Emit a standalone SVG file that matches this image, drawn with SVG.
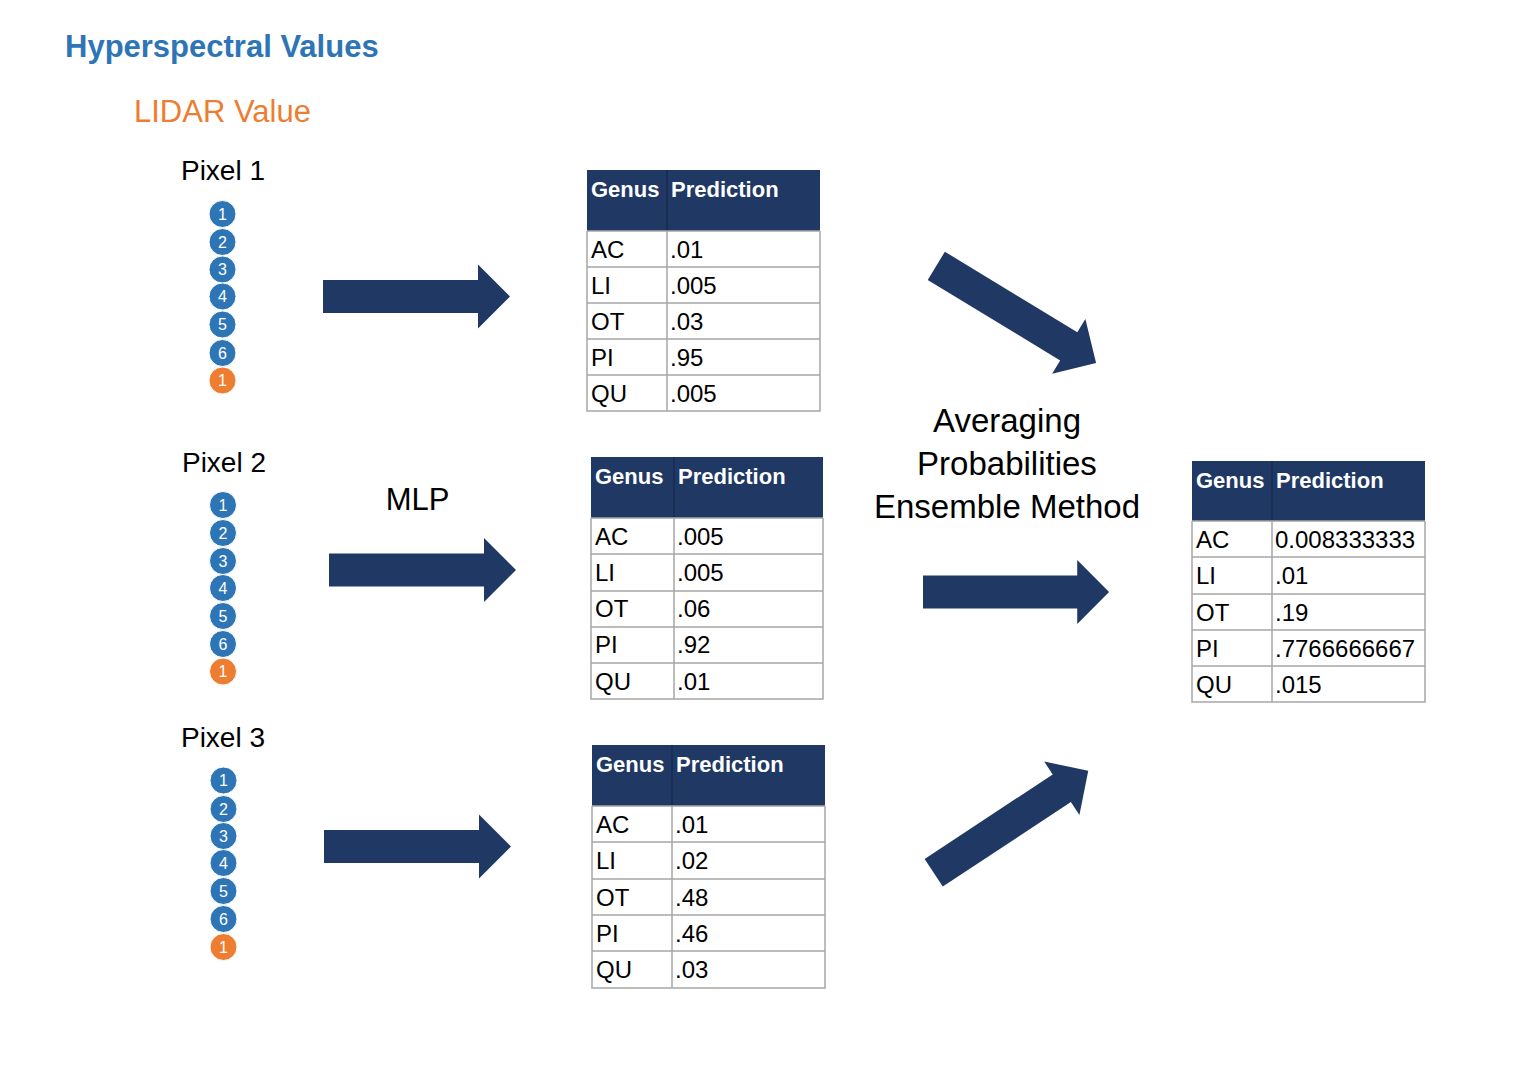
<svg xmlns="http://www.w3.org/2000/svg" width="1534" height="1075" viewBox="0 0 1534 1075">
<defs>
<style>
.bg{fill:#ffffff}
.arrow{fill:#1f3864}
.hdr{fill:#1f3864}
.cell{fill:#ffffff}
.grid{stroke:#a6a6a6;stroke-width:1.5;fill:none}
.hdrdiv{stroke:#15294a;stroke-width:1.2}
.ht{font-family:"Liberation Sans",Arial,sans-serif;font-weight:bold;font-size:22px;fill:#ffffff}
.ct{font-family:"Liberation Sans",Arial,sans-serif;font-size:24px;fill:#000000}
.lbl{font-family:"Liberation Sans",Arial,sans-serif;font-size:28px;fill:#000000;text-anchor:middle}
.big{font-family:"Liberation Sans",Arial,sans-serif;font-size:33px;fill:#000000;text-anchor:middle}
.cb{fill:#2e75b6;stroke:#ffffff;stroke-width:1}
.co{fill:#ed7d31;stroke:#ffffff;stroke-width:1}
.cn{font-family:"Liberation Sans",Arial,sans-serif;font-size:16px;fill:#ffffff;text-anchor:middle}
</style>
<path id="arr" d="M0,-16.5 L155,-16.5 L155,-32 L187,0 L155,32 L155,16.5 L0,16.5 Z"/>
</defs>
<rect class="bg" x="0" y="0" width="1534" height="1075"/>

<g id="titles">
<text x="65" y="57" style="font-family:'Liberation Sans',Arial,sans-serif;font-weight:bold;font-size:31px;fill:#2e75b6">Hyperspectral Values</text>
<text x="134" y="122" style="font-family:'Liberation Sans',Arial,sans-serif;font-size:31px;fill:#ed7d31">LIDAR Value</text>
</g>

<g id="pixel1">
<text class="lbl" x="223" y="180">Pixel 1</text>
<circle class="cb" cx="222.5" cy="214" r="13.5"/><text class="cn" x="222.5" y="219.5">1</text>
<circle class="cb" cx="222.5" cy="242" r="13.5"/><text class="cn" x="222.5" y="247.5">2</text>
<circle class="cb" cx="222.5" cy="269.5" r="13.5"/><text class="cn" x="222.5" y="275">3</text>
<circle class="cb" cx="222.5" cy="296.5" r="13.5"/><text class="cn" x="222.5" y="302">4</text>
<circle class="cb" cx="222.5" cy="324.5" r="13.5"/><text class="cn" x="222.5" y="330">5</text>
<circle class="cb" cx="222.5" cy="353" r="13.5"/><text class="cn" x="222.5" y="358.5">6</text>
<circle class="co" cx="222.5" cy="380.5" r="13.5"/><text class="cn" x="222.5" y="386">1</text>
</g>

<g id="pixel2">
<text class="lbl" x="224" y="472">Pixel 2</text>
<circle class="cb" cx="223" cy="505" r="13.5"/><text class="cn" x="223" y="510.5">1</text>
<circle class="cb" cx="223" cy="533" r="13.5"/><text class="cn" x="223" y="538.5">2</text>
<circle class="cb" cx="223" cy="561" r="13.5"/><text class="cn" x="223" y="566.5">3</text>
<circle class="cb" cx="223" cy="588" r="13.5"/><text class="cn" x="223" y="593.5">4</text>
<circle class="cb" cx="223" cy="616" r="13.5"/><text class="cn" x="223" y="621.5">5</text>
<circle class="cb" cx="223" cy="644" r="13.5"/><text class="cn" x="223" y="649.5">6</text>
<circle class="co" cx="223" cy="671.5" r="13.5"/><text class="cn" x="223" y="677">1</text>
</g>

<g id="pixel3">
<text class="lbl" x="223" y="747">Pixel 3</text>
<circle class="cb" cx="223.5" cy="780.5" r="13.5"/><text class="cn" x="223.5" y="786">1</text>
<circle class="cb" cx="223.5" cy="809" r="13.5"/><text class="cn" x="223.5" y="814.5">2</text>
<circle class="cb" cx="223.5" cy="836" r="13.5"/><text class="cn" x="223.5" y="841.5">3</text>
<circle class="cb" cx="223.5" cy="863" r="13.5"/><text class="cn" x="223.5" y="868.5">4</text>
<circle class="cb" cx="223.5" cy="891" r="13.5"/><text class="cn" x="223.5" y="896.5">5</text>
<circle class="cb" cx="223.5" cy="919" r="13.5"/><text class="cn" x="223.5" y="924.5">6</text>
<circle class="co" cx="223.5" cy="947" r="13.5"/><text class="cn" x="223.5" y="952.5">1</text>
</g>

<g id="labels">
<text class="big" x="417.5" y="510" style="font-size:31px">MLP</text>
<text class="big" x="1007" y="432">Averaging</text>
<text class="big" x="1007" y="475">Probabilities</text>
<text class="big" x="1007" y="518">Ensemble Method</text>
</g>

<g id="connectors">
<use href="#arr" class="arrow" transform="translate(323,296.5)"/>
<use href="#arr" class="arrow" transform="translate(329,570)"/>
<use href="#arr" class="arrow" transform="translate(324,846.5)"/>
<use href="#arr" class="arrow" transform="translate(923,592) scale(0.995,1)"/>
<use href="#arr" class="arrow" transform="translate(936.3,265.8) rotate(31.3)"/>
<use href="#arr" class="arrow" transform="translate(933.7,872.7) rotate(-33.4) scale(0.99,1)"/>
</g>

<g id="table1">
<rect class="hdr" x="587" y="170" width="233" height="61"/>
<rect class="cell" x="587" y="231" width="233" height="180"/>
<line class="hdrdiv" x1="667" y1="170" x2="667" y2="231"/>
<path class="grid" d="M587,231 V411 H820 V231 M667,231 V411 M587,267 H820 M587,303 H820 M587,339 H820 M587,375 H820 M587,231 H820"/>
<text class="ht" x="591" y="197">Genus</text><text class="ht" x="671" y="197">Prediction</text>
<text class="ct" x="591" y="257.5">AC</text><text class="ct" x="670" y="257.5">.01</text>
<text class="ct" x="591" y="293.5">LI</text><text class="ct" x="670" y="293.5">.005</text>
<text class="ct" x="591" y="329.5">OT</text><text class="ct" x="670" y="329.5">.03</text>
<text class="ct" x="591" y="365.5">PI</text><text class="ct" x="670" y="365.5">.95</text>
<text class="ct" x="591" y="401.5">QU</text><text class="ct" x="670" y="401.5">.005</text>
</g>

<g id="table2">
<rect class="hdr" x="591" y="457" width="232" height="61"/>
<rect class="cell" x="591" y="518" width="232" height="181"/>
<line class="hdrdiv" x1="674" y1="457" x2="674" y2="518"/>
<path class="grid" d="M591,518 V699 H823 V518 M674,518 V699 M591,554 H823 M591,591 H823 M591,627 H823 M591,663 H823 M591,518 H823"/>
<text class="ht" x="595" y="484">Genus</text><text class="ht" x="678" y="484">Prediction</text>
<text class="ct" x="595" y="544.5">AC</text><text class="ct" x="677" y="544.5">.005</text>
<text class="ct" x="595" y="580.5">LI</text><text class="ct" x="677" y="580.5">.005</text>
<text class="ct" x="595" y="617">OT</text><text class="ct" x="677" y="617">.06</text>
<text class="ct" x="595" y="653">PI</text><text class="ct" x="677" y="653">.92</text>
<text class="ct" x="595" y="689.5">QU</text><text class="ct" x="677" y="689.5">.01</text>
</g>

<g id="table3">
<rect class="hdr" x="592" y="745" width="233" height="61"/>
<rect class="cell" x="592" y="806" width="233" height="182"/>
<line class="hdrdiv" x1="672" y1="745" x2="672" y2="806"/>
<path class="grid" d="M592,806 V988 H825 V806 M672,806 V988 M592,842 H825 M592,879 H825 M592,915 H825 M592,951 H825 M592,806 H825"/>
<text class="ht" x="596" y="772">Genus</text><text class="ht" x="676" y="772">Prediction</text>
<text class="ct" x="596" y="832.5">AC</text><text class="ct" x="675" y="832.5">.01</text>
<text class="ct" x="596" y="868.5">LI</text><text class="ct" x="675" y="868.5">.02</text>
<text class="ct" x="596" y="905.5">OT</text><text class="ct" x="675" y="905.5">.48</text>
<text class="ct" x="596" y="941.5">PI</text><text class="ct" x="675" y="941.5">.46</text>
<text class="ct" x="596" y="978">QU</text><text class="ct" x="675" y="978">.03</text>
</g>

<g id="table4">
<rect class="hdr" x="1192" y="461" width="233" height="60"/>
<rect class="cell" x="1192" y="521" width="233" height="181"/>
<line class="hdrdiv" x1="1272" y1="461" x2="1272" y2="521"/>
<path class="grid" d="M1192,521 V702 H1425 V521 M1272,521 V702 M1192,557 H1425 M1192,594 H1425 M1192,630 H1425 M1192,666 H1425 M1192,521 H1425"/>
<text class="ht" x="1196" y="488">Genus</text><text class="ht" x="1276" y="488">Prediction</text>
<text class="ct" x="1196" y="547.5">AC</text><text class="ct" x="1275" y="547.5">0.008333333</text>
<text class="ct" x="1196" y="583.5">LI</text><text class="ct" x="1275" y="583.5">.01</text>
<text class="ct" x="1196" y="620.5">OT</text><text class="ct" x="1275" y="620.5">.19</text>
<text class="ct" x="1196" y="656.5">PI</text><text class="ct" x="1275" y="656.5">.7766666667</text>
<text class="ct" x="1196" y="692.5">QU</text><text class="ct" x="1275" y="692.5">.015</text>
</g>
</svg>
